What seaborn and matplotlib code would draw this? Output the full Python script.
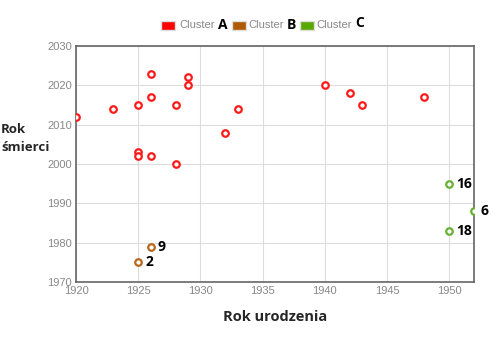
import matplotlib
matplotlib.use("Agg")
import matplotlib.pyplot as plt
import seaborn as sns
import pandas as pd
from matplotlib.patches import Rectangle

birth_A = [1920, 1923, 1925, 1926, 1926, 1928, 1929, 1929, 1933, 1932, 1925, 1925, 1926, 1928, 1940, 1942, 1943, 1948]
death_A = [2012, 2014, 2015, 2023, 2017, 2015, 2022, 2020, 2014, 2008, 2003, 2002, 2002, 2000, 2020, 2018, 2015, 2017]
birth_B = [1925, 1926]
death_B = [1975, 1979]
birth_C = [1950, 1950, 1952]
death_C = [1995, 1983, 1988]
labels_B = ["2", "9"]
labels_C = ["16", "18", "6"]
clusters = ["A", "B", "C"]
colors = {"A": "#ff1a1a", "B": "#b8661a", "C": "#66b032"}
legend_colors = {"A": "#ff0000", "B": "#b05a00", "C": "#58a800"}
xticks = [1920, 1925, 1930, 1935, 1940, 1945, 1950]
yticks = [1970, 1980, 1990, 2000, 2010, 2020, 2030]

df = pd.DataFrame({
    "birth": birth_A + birth_B + birth_C,
    "death": death_A + death_B + death_C,
    "cluster": ["A"] * len(birth_A) + ["B"] * len(birth_B) + ["C"] * len(birth_C),
})

sns.set_style("white")
plt.rcParams['font.family'] = ['Liberation Sans', 'DejaVu Sans']

fig = plt.figure(figsize=(5.0, 3.46), dpi=100)
ax = fig.add_axes([0.152, 0.185, 0.796, 0.682])

for c in clusters:
    sub = df[df.cluster == c]
    sns.scatterplot(data=sub, x="birth", y="death", ax=ax, marker="o", s=22,
                    facecolor="white", edgecolor=colors[c], linewidth=1.6, legend=False, zorder=3)

for x, y, t in zip(birth_B + birth_C, death_B + death_C, labels_B + labels_C):
    ax.annotate(t, (x, y), xytext=(5, 0), textcoords="offset points", fontsize=10,
                fontweight="bold", family="Open Sans", color="black", va="center", ha="left",
                annotation_clip=False)

ax.set_xlim(1920, 1952)
ax.set_ylim(1970, 2030)
ax.set_xticks(xticks)
ax.set_yticks(yticks)
ax.grid(True, color="#dddddd", linewidth=0.8)
ax.tick_params(axis="both", labelsize=8, colors="#888888", length=0, pad=3)
for s in ax.spines.values():
    s.set_color("#666666")
    s.set_linewidth(1.2)
ax.set_xlabel("Rok urodzenia", fontsize=10.5, fontweight="bold", family="Open Sans", labelpad=10)
ax.set_ylabel("")
fig.text(0.002, 0.60, "Rok\nśmierci", fontsize=9.5, fontweight="bold", family="Open Sans",
         ha="left", va="center", linespacing=1.5)

# legend
W, H = 500.0, 346.0
entries = [(161, 179, 218, "A"), (232, 248, 287, "B"), (300, 316, 355, "C")]
for sx, tx, lx, c in entries:
    fig.patches.append(Rectangle((sx / W, 1 - 30 / H), 14 / W, 9 / H, transform=fig.transFigure,
                                 facecolor=legend_colors[c], edgecolor="#dddddd", linewidth=1))
    fig.text(tx / W, 1 - 25.5 / H, "Cluster", fontsize=8, color="#888888", ha="left", va="center")
    fig.text(lx / W, 1 - (25 if c != "C" else 23) / H, c, fontsize=10, fontweight="bold",
             family="Open Sans", color="black", ha="left", va="center")

fig.savefig("out.png", dpi=100)
